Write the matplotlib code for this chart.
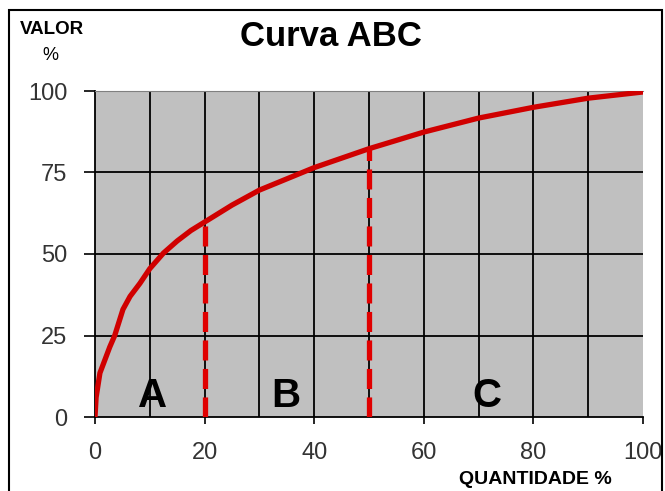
import matplotlib
matplotlib.use('Agg')
import matplotlib.pyplot as plt
from matplotlib.patches import Rectangle

plt.rcParams['font.family'] = ['Liberation Sans', 'DejaVu Sans']

# Curva ABC data
quantidade = [0, 0.2, 0.9, 2.7, 3.6, 5.1, 6.4, 8.2, 10, 12.5, 15, 17.5, 20,
              25, 30, 40, 50, 60, 70, 80, 90, 100]
valor = [0, 6, 13.5, 21.5, 25, 33, 37, 41, 45.5, 50.3, 54, 57.2, 59.8,
         65, 69.6, 76.5, 82.3, 87.4, 91.7, 95, 97.8, 99.7]

# class limits (quantity %) and their value %
cortes_x = [20, 50]
cortes_y = [59.8, 82.3]

classes = ['A', 'B', 'C']
classes_x = [10.5, 34.8, 71.5]

x_ticks = [0, 20, 40, 60, 80, 100]
y_ticks = [0, 25, 50, 75, 100]

fig = plt.figure(figsize=(6.65, 4.91), dpi=100)
ax = fig.add_axes([95 / 665, 74 / 491, 548 / 665, 326 / 491])
ax.set_facecolor('#C0C0C0')

# grid
for gx in range(10, 100, 10):
    ax.axvline(gx, color='black', lw=1.3, zorder=1)
for gy in [25, 50, 75]:
    ax.axhline(gy, color='black', lw=1.3, zorder=1)

ax.plot(quantidade, valor, color='#D00000', lw=3.8, zorder=3,
        solid_capstyle='round', solid_joinstyle='round')

for cx, cy in zip(cortes_x, cortes_y):
    ax.plot([cx, cx], [0, cy], color='#E00000', lw=3.8, zorder=3,
            dashes=(3.8, 1.6))

for lab, lx in zip(classes, classes_x):
    ax.text(lx, 0.5, lab, fontsize=29, fontweight='bold', ha='center',
            va='bottom', zorder=4)

ax.set_xlim(0, 100)
ax.set_ylim(0, 100)
ax.set_xticks(x_ticks)
ax.set_yticks(y_ticks)
ax.tick_params(axis='both', direction='out', width=1.2, colors='black')
ax.tick_params(axis='x', length=5, pad=13)
ax.tick_params(axis='y', length=8, pad=12)
for lab in ax.get_xticklabels() + ax.get_yticklabels():
    lab.set_color('#333333')
    lab.set_fontsize(17)
    lab.set_family(['Liberation Sans Narrow', 'Liberation Sans'])

ax.spines['right'].set_visible(False)
ax.spines['top'].set_color('#808080')
ax.spines['left'].set_linewidth(1.3)
ax.spines['bottom'].set_linewidth(1.3)

fig.text(331 / 665, 1 - 37 / 491, 'Curva ABC', fontsize=25, fontweight='bold',
         ha='center', va='center')
fig.text(52 / 665, 1 - 30 / 491, 'VALOR', fontsize=13.5, fontweight='bold',
         ha='center', va='center')
fig.text(50 / 665, 1 - 56 / 491, '%', fontsize=13, ha='center', va='center')
fig.text(535 / 665, 1 - 479 / 491, 'QUANTIDADE %', fontsize=14,
         fontweight='bold', ha='center', va='center')

# outer frame, runs off the bottom edge
fig.patches.append(Rectangle((9 / 665, -0.1), 653 / 665, 1.1 - 10 / 491,
                             transform=fig.transFigure, fill=False,
                             edgecolor='black', lw=1.5, clip_on=False))

fig.savefig('out.png', dpi=100)
